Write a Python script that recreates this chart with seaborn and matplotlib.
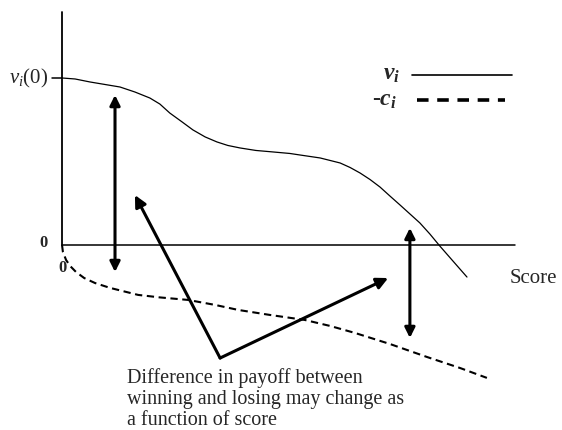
import matplotlib
matplotlib.use("Agg")
import matplotlib.pyplot as plt
import seaborn as sns

# -----------------------------
# data
# -----------------------------
score_v = [0, 0.29, 0.62, 0.95, 1.28, 1.61, 1.94, 2.16, 2.38, 2.65, 2.89, 3.16,
           3.42, 3.66, 3.93, 4.28, 4.66, 5.03, 5.25, 5.70, 6.14, 6.36, 6.58, 6.80,
           7.02, 7.24, 7.46, 7.68, 7.90, 8.12, 8.34, 8.63, 8.94]
payoff_v = [1.0, 0.994, 0.976, 0.961, 0.946, 0.916, 0.880, 0.844, 0.790, 0.737,
            0.689, 0.647, 0.617, 0.596, 0.581, 0.566, 0.557, 0.548, 0.539, 0.521,
            0.491, 0.464, 0.431, 0.392, 0.347, 0.293, 0.240, 0.186, 0.132, 0.066,
            -0.006, -0.096, -0.192]

score_c = [0, 0.02, 0.09, 0.18, 0.31, 0.49, 0.73, 1.06, 1.68, 2.16, 2.78, 3.38,
           3.89, 4.59, 5.36, 5.92, 6.47, 7.24, 8.06, 8.79, 9.38]
payoff_c = [0, -0.042, -0.090, -0.126, -0.162, -0.198, -0.228, -0.257, -0.299,
            -0.314, -0.329, -0.359, -0.389, -0.419, -0.449, -0.485, -0.527, -0.593,
            -0.671, -0.737, -0.796]

x_max = 10.0
y_top = 1.395

# double arrows: (x, y_top, y_bottom)
double_arrows = [(1.17, 0.898, -0.162), (7.68, 0.102, -0.557)]
# pointer arrows start from one vertex
pointer_from = (3.49, -0.677)
pointer_tips = [(1.61, 0.299), (7.20, -0.198)]

note = "Difference in payoff between\nwinning and losing may change as\na function of score"

# -----------------------------
# figure
# -----------------------------
sns.set_theme(style="white")
plt.rcParams['font.family'] = ['Liberation Serif', 'DejaVu Serif']
plt.rcParams['mathtext.fontset'] = 'custom'
plt.rcParams['mathtext.rm'] = 'Liberation Serif'
plt.rcParams['mathtext.it'] = 'Liberation Serif:italic'
plt.rcParams['mathtext.bf'] = 'Liberation Serif:bold'
plt.rcParams['mathtext.bfit'] = 'Liberation Serif:bold:italic'

fig = plt.figure(figsize=(5.62, 4.30), dpi=100)
ax = fig.add_axes([0, 0, 1, 1])
ax.set_xlim(-1.369, 11.038)
ax.set_ylim(-1.108, 1.467)
ax.axis('off')

# axes drawn by hand
ax.plot([0, 0], [0, y_top], color='black', lw=1.3)
ax.plot([0, x_max], [0, 0], color='black', lw=1.1)
ax.plot([-0.22, 0], [1.0, 1.0], color='black', lw=1.1)

# curves
sns.lineplot(x=score_v, y=payoff_v, ax=ax, color='black', lw=0.9, sort=False)
sns.lineplot(x=score_c, y=payoff_c, ax=ax, color='black', lw=1.5, sort=False,
             linestyle=(0, (3.5, 2.2)))

# legend drawn by hand
ax.plot([7.73, 9.93], [1.018, 1.018], color='black', lw=1.2)
ax.plot([7.84, 9.78], [0.868, 0.868], color='black', lw=2.6, linestyle=(0, (3.2, 2.4)))
ax.text(7.46, 1.018, r"$\mathbfit{v}_{\mathbfit{i}}$", ha='right', va='center', fontsize=17)
ax.text(7.40, 0.868, r"-$\mathbfit{c}_{\mathbfit{i}}$", ha='right', va='center',
        fontsize=17, fontweight='bold')

# labels
ax.text(-0.31, 1.0, r"$v_i(0)$", ha='right', va='center', fontsize=15)
ax.text(-0.32, 0.01, "0", ha='right', va='center', fontsize=12, fontweight='bold')
ax.text(0.02, -0.14, "0", ha='center', va='center', fontsize=12, fontweight='bold')
ax.text(9.89, -0.198, "Score", ha='left', va='center', fontsize=15)

# arrows
for x, y1, y2 in double_arrows:
    ax.annotate("", xy=(x, y1), xytext=(x, y2),
                arrowprops=dict(arrowstyle='<|-|>', color='black', lw=2.2,
                                mutation_scale=15, shrinkA=0, shrinkB=0))
for tip in pointer_tips:
    ax.annotate("", xy=tip, xytext=pointer_from,
                arrowprops=dict(arrowstyle='-|>', color='black', lw=2.2,
                                mutation_scale=17, shrinkA=0, shrinkB=0))

ax.text(1.43, -0.735, note, ha='left', va='top', fontsize=14.5, linespacing=1.17)

fig.savefig("out.png", dpi=100)
